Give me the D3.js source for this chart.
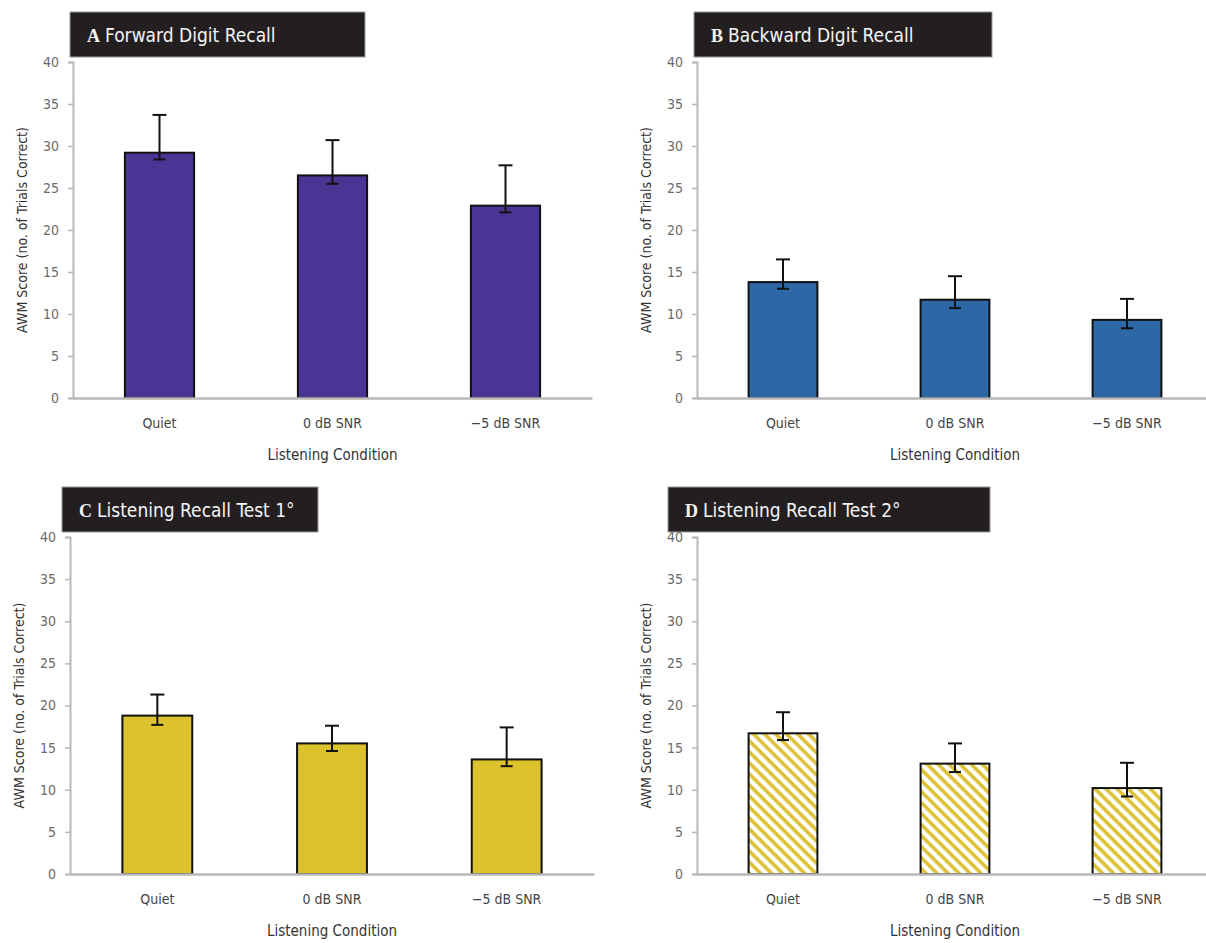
<!DOCTYPE html>
<html>
<head>
<meta charset="utf-8">
<script src="https://cdn.jsdelivr.net/npm/d3@7"></script>
<style>
  html, body { margin: 0; padding: 0; background: #fff; }
  svg { display: block; }
</style>
</head>
<body>
<svg id="chart" width="1206" height="943"></svg>
<script>
// Listening conditions on the x axis
const conditions = ["Quiet", "0 dB SNR", "\u22125 dB SNR"];
const yTicks = [0, 5, 10, 15, 20, 25, 30, 35, 40];

// Mean AWM scores and error-bar ends per task
const forwardMean = [29.2, 26.5, 22.9];
const forwardHigh = [33.7, 30.7, 27.7];
const forwardLow  = [28.4, 25.5, 22.1];

const backwardMean = [13.8, 11.7, 9.3];
const backwardHigh = [16.5, 14.5, 11.8];
const backwardLow  = [13.0, 10.7, 8.3];

const recall1Mean = [18.8, 15.5, 13.6];
const recall1High = [21.3, 17.6, 17.4];
const recall1Low  = [17.7, 14.6, 12.8];

const recall2Mean = [16.7, 13.1, 10.2];
const recall2High = [19.2, 15.5, 13.2];
const recall2Low  = [15.9, 12.1, 9.2];

const panelLetters = ["A", "B", "C", "D"];
const panelTitles = ["Forward Digit Recall", "Backward Digit Recall", "Listening Recall Test 1\u00B0", "Listening Recall Test 2\u00B0"];

const svg = d3.select("#chart");
const FONT = "'DejaVu Sans Condensed', 'Liberation Sans Narrow', Roboto, sans-serif";

// diagonal yellow hatch for panel D (stripes run top-left to bottom-right)
const defs = svg.append("defs");
const pat = defs.append("pattern")
  .attr("id", "hatch")
  .attr("patternUnits", "userSpaceOnUse")
  .attr("width", 7.8).attr("height", 7.8)
  .attr("patternTransform", "rotate(45)");
pat.append("rect").attr("width", 7.8).attr("height", 7.8).attr("fill", "#ffffff");
pat.append("rect").attr("x", 0).attr("y", 0).attr("width", 7.8).attr("height", 3.6).attr("fill", "#dcc234");

const panels = [
  { mean: forwardMean, hi: forwardHigh, lo: forwardLow, fill: "#4a3494",
    x0: 73, x1: 592, yBottom: 398, yTop: 62, box: [70, 12, 295, 45] },
  { mean: backwardMean, hi: backwardHigh, lo: backwardLow, fill: "#2c67a6",
    x0: 697, x1: 1213, yBottom: 398, yTop: 62, box: [694, 12, 298, 45] },
  { mean: recall1Mean, hi: recall1High, lo: recall1Low, fill: "#dcc22c",
    x0: 70, x1: 594, yBottom: 874, yTop: 537, box: [62, 487, 256, 45] },
  { mean: recall2Mean, hi: recall2High, lo: recall2Low, fill: "url(#hatch)",
    x0: 697, x1: 1213, yBottom: 874, yTop: 537, box: [668, 487, 322, 45] }
];

panels.forEach((p, i) => {
  const g = svg.append("g");

  const x = d3.scaleBand().domain(conditions).range([p.x0, p.x1])
    .paddingInner(0.6).paddingOuter(0.3);
  const y = d3.scaleLinear().domain([0, 40]).range([p.yBottom, p.yTop]);

  // title banner
  const [bx, by, bw, bh] = p.box;
  g.append("rect").attr("x", bx).attr("y", by).attr("width", bw).attr("height", bh)
    .attr("fill", "#231f20").attr("stroke", "#9a9a9a").attr("stroke-width", 1);
  const t = g.append("text").attr("x", bx + 17).attr("y", by + 30)
    .attr("fill", "#f4f4f4").attr("font-size", 19);
  t.append("tspan").attr("font-family", "'Liberation Serif', 'DejaVu Serif', serif")
    .attr("font-weight", "bold").attr("font-size", 18).text(panelLetters[i]);
  t.append("tspan").attr("font-family", FONT).attr("dx", 5).text(panelTitles[i]);

  // y axis
  const yAxis = d3.axisLeft(y).tickValues(yTicks).tickSize(5).tickPadding(9);
  const ya = g.append("g").attr("transform", `translate(${p.x0},0)`).call(yAxis);
  ya.select(".domain").attr("stroke", "#b8b8b8").attr("stroke-width", 2);
  ya.selectAll(".tick line").attr("stroke", "#b8b8b8").attr("stroke-width", 1.5);
  ya.selectAll(".tick text").attr("fill", "#6a6a6a").attr("font-size", 14).attr("font-family", FONT);

  // bars
  g.selectAll(".bar").data(p.mean).enter().append("rect")
    .attr("x", (d, j) => x(conditions[j]))
    .attr("y", d => y(d))
    .attr("width", x.bandwidth())
    .attr("height", d => y(0) - y(d))
    .attr("fill", p.fill)
    .attr("stroke", "#111").attr("stroke-width", 2);

  // x axis baseline drawn over bar bottoms
  const xAxis = d3.axisBottom(x).tickSize(0).tickPadding(20);
  const xa = g.append("g").attr("transform", `translate(0,${p.yBottom})`).call(xAxis);
  xa.select(".domain").attr("stroke", "#b8b8b8").attr("stroke-width", 2.5);
  xa.selectAll(".tick text").attr("fill", "#444").attr("font-size", 14).attr("font-family", FONT);

  // error bars
  const eb = g.selectAll(".err").data(p.mean).enter().append("g");
  const cx = j => x(conditions[j]) + x.bandwidth() / 2;
  eb.append("line")
    .attr("x1", (d, j) => cx(j)).attr("x2", (d, j) => cx(j))
    .attr("y1", (d, j) => y(p.hi[j])).attr("y2", (d, j) => y(p.lo[j]))
    .attr("stroke", "#111").attr("stroke-width", 2);
  eb.append("line")
    .attr("x1", (d, j) => cx(j) - 7).attr("x2", (d, j) => cx(j) + 7)
    .attr("y1", (d, j) => y(p.hi[j])).attr("y2", (d, j) => y(p.hi[j]))
    .attr("stroke", "#111").attr("stroke-width", 2);
  eb.append("line")
    .attr("x1", (d, j) => cx(j) - 6).attr("x2", (d, j) => cx(j) + 6)
    .attr("y1", (d, j) => y(p.lo[j])).attr("y2", (d, j) => y(p.lo[j]))
    .attr("stroke", "#111").attr("stroke-width", 2);

  // axis titles
  const midX = (x(conditions[0]) + x(conditions[2]) + x.bandwidth()) / 2;
  g.append("text").attr("x", midX).attr("y", p.yBottom + 62)
    .attr("text-anchor", "middle").attr("font-family", FONT).attr("font-size", 15)
    .attr("fill", "#333").text("Listening Condition");

  const midY = (p.yBottom + p.yTop) / 2;
  g.append("text")
    .attr("transform", `translate(${p.x0 - 46},${midY}) rotate(-90)`)
    .attr("text-anchor", "middle").attr("font-family", FONT).attr("font-size", 14)
    .attr("fill", "#333").text("AWM Score (no. of Trials Correct)");
});
</script>
</body>
</html>
